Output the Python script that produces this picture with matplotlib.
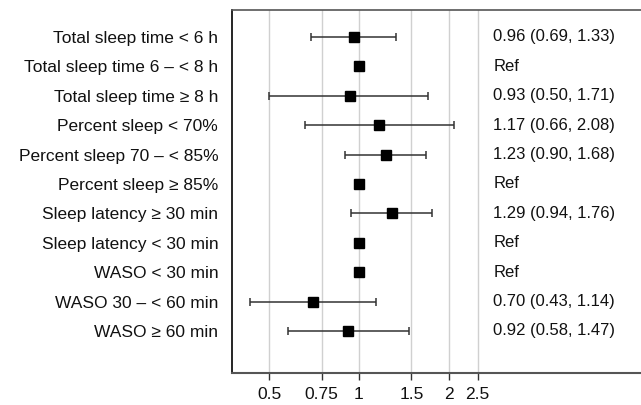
import matplotlib
matplotlib.use('Agg')
import matplotlib.pyplot as plt
from matplotlib.ticker import FixedLocator, NullLocator

plt.rcParams['font.family'] = ['Liberation Sans', 'DejaVu Sans']

labels = ['Total sleep time < 6 h', 'Total sleep time 6 \u2013 < 8 h',
          'Total sleep time \u2265 8 h', 'Percent sleep < 70%',
          'Percent sleep 70 \u2013 < 85%', 'Percent sleep \u2265 85%',
          'Sleep latency \u2265 30 min', 'Sleep latency < 30 min',
          'WASO < 30 min', 'WASO 30 \u2013 < 60 min', 'WASO \u2265 60 min']
est = [0.96, 1.00, 0.93, 1.17, 1.23, 1.00, 1.29, 1.00, 1.00, 0.70, 0.92]
lo = [0.69, None, 0.50, 0.66, 0.90, None, 0.94, None, None, 0.43, 0.58]
hi = [1.33, None, 1.71, 2.08, 1.68, None, 1.76, None, None, 1.14, 1.47]
xticks = [0.5, 0.75, 1, 1.5, 2, 2.5]
xticklabels = ['0.5', '0.75', '1', '1.5', '2', '2.5']


def fmt(e, l, h):
    if l is None:
        return 'Ref'
    return '{:.2f} ({:.2f}, {:.2f})'.format(e, l, h)


fig = plt.figure(figsize=(6.41, 4.05), dpi=100)
ax = fig.add_axes([0.362, 0.079, 0.638, 0.896])
ax.set_xscale('log')

n = len(labels)
ys = [n - i for i in range(n)]

for x in xticks:
    ax.axvline(x, color='#d0d0d0', lw=1, zorder=0)

for y, e, l, h in zip(ys, est, lo, hi):
    if l is not None:
        ax.errorbar(e, y, xerr=[[e - l], [h - e]], fmt='none', ecolor='#333333',
                    elinewidth=1.1, capsize=3, capthick=1.1, zorder=2)
    ax.plot(e, y, marker='s', color='black', markersize=6.5, ls='none', zorder=3)
    ax.text(2.82, y, fmt(e, l, h), ha='left', va='center', fontsize=12, color='#111111')

ax.set_xlim(0.375, 8.84)
ax.set_ylim(-0.43, n + 0.91)
ax.xaxis.set_major_locator(FixedLocator(xticks))
ax.xaxis.set_minor_locator(NullLocator())
ax.set_xticklabels(xticklabels)
ax.set_yticks(ys)
ax.set_yticklabels(labels)
ax.tick_params(axis='y', length=0, pad=10, labelsize=12.5, labelcolor='#111111')
ax.tick_params(axis='x', length=5, width=1, pad=5, labelsize=12.5, color='#333333',
               labelcolor='#111111')

ax.spines['right'].set_visible(False)
ax.spines['left'].set_color('black')
ax.spines['left'].set_linewidth(1.2)
ax.spines['top'].set_color('#555555')
ax.spines['bottom'].set_color('#555555')
ax.spines['top'].set_linewidth(1.2)
ax.spines['bottom'].set_linewidth(1.5)

fig.savefig('out.png', dpi=100)
